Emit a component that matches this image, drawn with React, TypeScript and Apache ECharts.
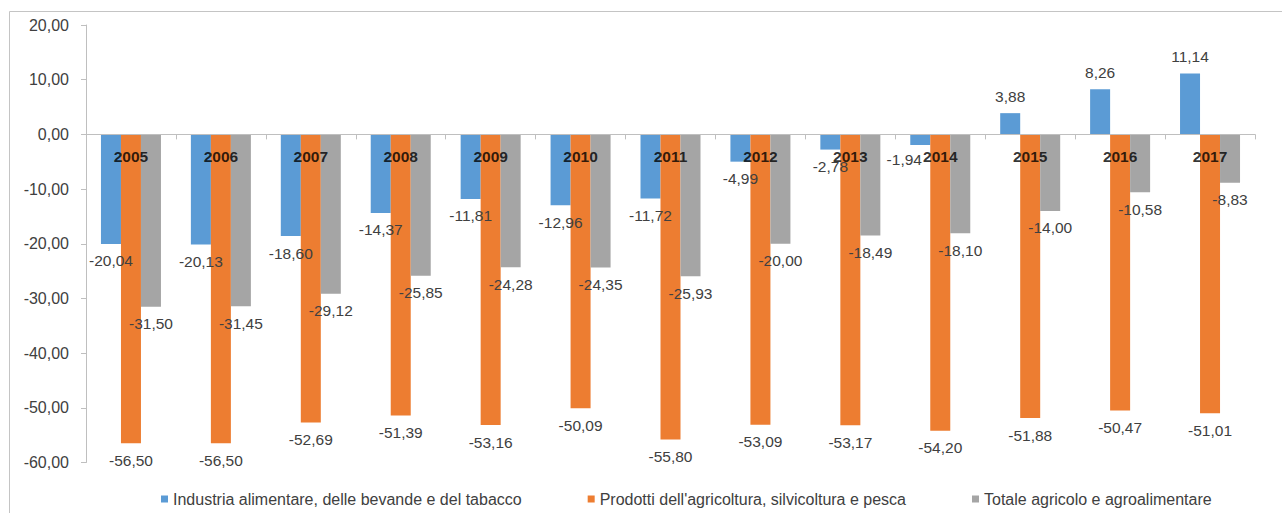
import React, { useEffect, useRef } from "react";
import * as echarts from "echarts";

const years = ["2005", "2006", "2007", "2008", "2009", "2010", "2011", "2012", "2013", "2014", "2015", "2016", "2017"];
const seriesNames = [
  "Industria alimentare, delle bevande e del tabacco",
  "Prodotti dell'agricoltura, silvicoltura e pesca",
  "Totale agricolo e agroalimentare",
];
const industria = [-20.04, -20.13, -18.6, -14.37, -11.81, -12.96, -11.72, -4.99, -2.78, -1.94, 3.88, 8.26, 11.14];
const prodotti = [-56.5, -56.5, -52.69, -51.39, -53.16, -50.09, -55.8, -53.09, -53.17, -54.2, -51.88, -50.47, -51.01];
const totale = [-31.5, -31.45, -29.12, -25.85, -24.28, -24.35, -25.93, -20.0, -18.49, -18.1, -14.0, -10.58, -8.83];
const colors = ["#5B9BD5", "#ED7D31", "#A5A5A5"];

const FONT = "'Liberation Sans', Arial, sans-serif";
const fmt = (v: number) => v.toFixed(2).replace(".", ",");

export default function App() {
  const ref = useRef<HTMLDivElement>(null);
  useEffect(() => {
    if (!ref.current) return;
    const chart = echarts.init(ref.current, undefined, { renderer: "svg" });
    const mk = (name: string, vals: number[], color: string, shifted: number[] = []) => ({
      name,
      type: "bar",
      barWidth: 20,
      barGap: "0%",
      itemStyle: { color },
      label: {
        show: true,
        distance: 9,
        fontFamily: FONT,
        fontSize: 15.5,
        color: "#404040",
        formatter: (p: any) => fmt(p.value),
      },
      data: vals.map((v, i) => ({
        value: v,
        label: {
          position: v >= 0 ? "top" : "bottom",
          offset: shifted.includes(i) ? [-16, -2] : [0, 0],
        },
      })),
    });
    chart.setOption({
      animation: false,
      backgroundColor: "#fff",
      textStyle: { fontFamily: FONT },
      graphic: [
        {
          type: "rect",
          shape: { x: 9.5, y: 11.5, width: 1400, height: 700 },
          style: { fill: "none", stroke: "#c4c4c4", lineWidth: 1 },
          silent: true,
          z: -10,
        },
      ],
      grid: { left: 86, right: 27, top: 25, bottom: 50.5 },
      legend: {
        top: 486,
        left: 156,
        itemWidth: 7,
        itemHeight: 7,
        itemGap: 66,
        icon: "rect",
        textStyle: { fontFamily: FONT, fontSize: 16, color: "#404040", lineHeight: 16 },
        data: seriesNames,
      },
      xAxis: {
        type: "category",
        data: years,
        z: 10,
        axisLine: { onZero: true, lineStyle: { color: "#bfbfbf", width: 1 } },
        axisTick: { show: true, length: 5, lineStyle: { color: "#bfbfbf" } },
        axisLabel: { show: false },
        splitLine: { show: false },
      },
      yAxis: {
        type: "value",
        min: -60,
        max: 20,
        interval: 10,
        axisLine: { show: true, lineStyle: { color: "#bfbfbf", width: 1 } },
        axisTick: { show: true, length: 5, lineStyle: { color: "#bfbfbf" } },
        axisLabel: { fontFamily: FONT, fontSize: 16, color: "#404040", margin: 17, formatter: (v: number) => fmt(v) },
        splitLine: { show: false },
      },
      series: [
        mk(seriesNames[0], industria, colors[0], [9]),
        mk(seriesNames[1], prodotti, colors[1]),
        mk(seriesNames[2], totale, colors[2]),
        {
          name: "categorie",
          type: "scatter",
          symbol: "rect",
          symbolSize: 1,
          z: 20,
          silent: true,
          itemStyle: { color: "rgba(0,0,0,0)" },
          label: {
            show: true,
            position: "bottom",
            distance: 14,
            fontFamily: FONT,
            fontSize: 15.5,
            fontWeight: "bold",
            color: "#000",
            formatter: (p: any) => years[p.dataIndex],
          },
          data: years.map((y) => [y, 0]),
        },
      ],
    });
    return () => chart.dispose();
  }, []);
  return (
    <div
      ref={ref}
      style={{ position: "absolute", left: 0, top: 0, width: 1282, height: 513, background: "#fff" }}
    />
  );
}
